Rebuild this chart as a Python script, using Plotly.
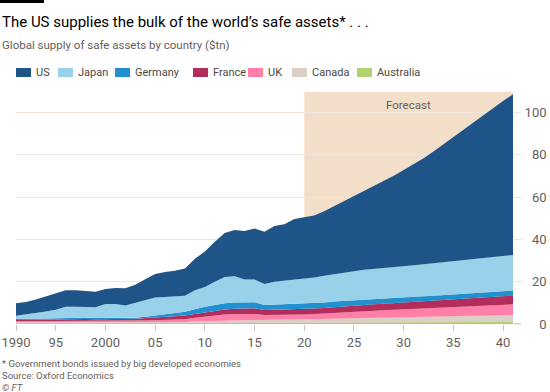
import plotly.graph_objects as go

years = list(range(1991, 2042))

us = [5.9, 5.9, 6.5, 7.1, 7.6, 7.7, 7.7, 7.6, 7.4, 7.2,
      7.6, 8.1, 8.6, 9.9, 11.1, 11.8, 12.2, 12.8, 14.8, 16.8,
      18.9, 20.8, 21.8, 22.9, 24.1, 24.7, 26.3, 26.7, 28.8, 28.9,
      29.3, 30.5, 32.1, 33.8, 35.4, 37.1, 39.0, 40.9, 43.1, 45.4,
      47.7, 50.2, 52.9, 55.9, 58.8, 62.0, 65.0, 68.0, 70.7, 73.4, 76.0]
japan = [1.5, 2.0, 2.5, 3.2, 3.8, 5.1, 5.1, 5.1, 5.0, 6.5,
         6.5, 6.0, 7.0, 7.9, 8.5, 8.3, 8.0, 7.6, 9.0, 9.3,
         11.0, 12.4, 12.4, 10.8, 10.8, 9.9, 10.8, 11.2, 11.4, 12.1,
         12.1, 12.6, 13.0, 13.3, 13.7, 14.0, 14.3, 14.5, 14.6, 14.8,
         15.0, 15.1, 15.4, 15.5, 15.8, 15.9, 16.1, 16.3, 16.5, 16.6, 16.8]
germany = [0.5, 0.5, 0.6, 0.6, 0.7, 0.7, 0.7, 0.6, 0.6, 0.6,
           0.6, 0.5, 0.5, 0.6, 0.8, 1.0, 1.3, 1.8, 2.3, 2.9,
           2.9, 2.9, 3.0, 2.9, 2.9, 2.4, 2.5, 2.5, 2.5, 2.5,
           2.6, 2.6, 2.6, 2.6, 2.7, 2.7, 2.5, 2.5, 2.5, 2.4,
           2.3, 2.3, 2.2, 2.2, 2.1, 2.1, 2.1, 2.1, 2.1, 2.2, 2.4]
france = [0.6, 0.7, 0.6, 0.7, 0.7, 0.8, 0.8, 0.8, 0.8, 0.8,
          0.8, 0.8, 0.9, 1.1, 1.3, 1.5, 1.6, 1.7, 1.8, 1.8,
          2.1, 2.4, 2.6, 2.7, 2.7, 2.3, 2.4, 2.5, 2.5, 2.5,
          2.6, 2.6, 2.8, 2.8, 2.8, 2.9, 3.1, 3.1, 3.2, 3.3,
          3.4, 3.5, 3.6, 3.7, 3.8, 3.9, 3.9, 4.0, 4.1, 4.1, 4.1]
uk = [0.5, 0.5, 0.6, 0.6, 0.7, 0.8, 0.8, 0.8, 0.7, 0.7,
      0.7, 0.7, 0.8, 0.9, 1.1, 1.1, 1.2, 1.3, 1.7, 2.1,
      2.5, 2.9, 2.9, 2.9, 2.9, 2.5, 2.4, 2.3, 2.3, 2.3,
      2.4, 2.6, 2.7, 2.9, 3.1, 3.2, 3.3, 3.5, 3.6, 3.7,
      3.8, 3.9, 4.0, 4.1, 4.2, 4.3, 4.5, 4.6, 4.7, 4.9, 5.0]
canada = [0.6, 0.6, 0.6, 0.6, 0.6, 0.6, 0.6, 0.6, 0.6, 0.6,
          0.6, 0.6, 0.6, 0.6, 0.6, 0.7, 0.7, 0.7, 0.9, 1.1,
          1.1, 1.2, 1.3, 1.4, 1.3, 1.3, 1.4, 1.5, 1.6, 1.6,
          1.7, 1.8, 1.9, 1.9, 2.0, 2.1, 2.2, 2.3, 2.3, 2.4,
          2.5, 2.6, 2.7, 2.7, 2.8, 2.9, 3.0, 3.1, 3.1, 3.2, 3.3]
australia = [0.2, 0.2, 0.2, 0.2, 0.2, 0.2, 0.2, 0.2, 0.2, 0.2,
             0.2, 0.2, 0.2, 0.2, 0.2, 0.2, 0.2, 0.3, 0.3, 0.3,
             0.4, 0.4, 0.4, 0.4, 0.5, 0.5, 0.5, 0.5, 0.5, 0.6,
             0.6, 0.6, 0.6, 0.7, 0.7, 0.7, 0.7, 0.7, 0.8, 0.8,
             0.8, 0.8, 0.8, 0.9, 0.9, 0.9, 0.9, 0.9, 1.0, 1.0, 1.0]

countries = ["US", "Japan", "Germany", "France", "UK", "Canada", "Australia"]
colors = ["#1F5488", "#98D1E9", "#2090CF", "#B22D5B", "#FF7FA8", "#DBCFC6", "#B2D173"]
series = [us, japan, germany, france, uk, canada, australia]

forecast_start = 2020
forecast_end = 2041

xtick_vals = [1991, 1995, 2000, 2005, 2010, 2015, 2020, 2025, 2030, 2035, 2040]
xtick_text = ["1990", "95", "2000", "05", "10", "15", "20", "25", "30", "35", "40"]
ytick_vals = [0, 20, 40, 60, 80, 100]
FS = "\u2007"
ytick_text = [FS + FS + "0", FS + "20", FS + "40", FS + "60", FS + "80", "100"]

FONT = "Roboto"
GREY = "#66605C"

L, R, T, B = 16, 37, 92, 68
PW, PH = 550 - L - R, 392 - T - B


def px(xp):
    return (xp - L) / PW


def py(yp):
    return (392 - B - yp) / PH


fig = go.Figure()
for name, vals, col in reversed(list(zip(countries, series, colors))):
    fig.add_trace(go.Scatter(
        x=years, y=vals, name=name, mode="lines", stackgroup="one",
        line=dict(width=0, color=col), fillcolor=col, showlegend=False,
        hoverinfo="x+y+name"))

fig.add_shape(type="rect", xref="x", yref="paper", x0=forecast_start, x1=forecast_end,
              y0=0, y1=1, fillcolor="#F3DECA", line_width=0, layer="below")
fig.add_annotation(x=(forecast_start + forecast_end) / 2, y=1, xref="x", yref="paper",
                   yanchor="top", yshift=-4, text="Forecast", showarrow=False,
                   font=dict(family=FONT, size=11.5, color=GREY))
fig.add_shape(type="line", xref="paper", yref="y", x0=0, x1=px(521), y0=0, y1=0,
              line=dict(color="#B8B1AB", width=1.2))
fig.add_shape(type="rect", xref="paper", yref="paper", x0=px(0), x1=px(44),
              y0=py(3), y1=py(0), fillcolor="#000000", line_width=0)

leg_x = [16, 58, 115, 193, 248, 292, 357]
for name, col, lx in zip(countries, colors, leg_x):
    fig.add_shape(type="rect", xref="paper", yref="paper",
                  x0=px(lx), x1=px(lx + 15), y0=py(77), y1=py(68),
                  fillcolor=col, line_width=0)
    fig.add_annotation(x=px(lx + 18), y=py(72.5), xref="paper", yref="paper",
                       xanchor="left", yanchor="middle", text=name, showarrow=False,
                       font=dict(family=FONT, size=11, color="#4D4845"))

fig.add_annotation(x=px(0), y=py(22), xref="paper", yref="paper",
                   xanchor="left", yanchor="middle", showarrow=False,
                   text="The US supplies the bulk of the world\u2019s safe assets* . . .",
                   font=dict(family=FONT, size=15, color="#000000"))
fig.add_annotation(x=px(0), y=py(45), xref="paper", yref="paper",
                   xanchor="left", yanchor="middle", showarrow=False,
                   text="Global supply of safe assets by country ($tn)",
                   font=dict(family=FONT, size=11.5, color=GREY))
foot = [("* Government bonds issued by big developed economies", 363),
        ("Source: Oxford Economics", 375), ("<i>\u00a9 FT</i>", 387)]
for t, yy in foot:
    fig.add_annotation(x=px(0), y=py(yy), xref="paper", yref="paper",
                       xanchor="left", yanchor="middle", showarrow=False, text=t,
                       font=dict(family=FONT, size=9.5, color=GREY))

fig.update_layout(
    width=550, height=392,
    margin=dict(l=L, r=R, t=T, b=B, autoexpand=False),
    paper_bgcolor="white", plot_bgcolor="white",
    showlegend=False,
    xaxis=dict(range=[1991, 2041], tickvals=xtick_vals, ticktext=xtick_text,
               ticks="outside", ticklen=6, tickcolor="#C9C2BC", showgrid=False,
               zeroline=False, showline=False, automargin=False,
               tickfont=dict(family=FONT, size=13, color=GREY)),
    yaxis=dict(range=[0, 109.7], side="right", tickvals=ytick_vals, ticktext=ytick_text,
               ticks="outside", ticklen=8, tickcolor="#EEE5DD", showgrid=True,
               gridcolor="#EEE5DD", gridwidth=1, zeroline=False, showline=False,
               layer="above traces", automargin=False,
               tickfont=dict(family=FONT, size=13, color=GREY)),
)
fig.write_html("out.html", config={"displayModeBar": False},
               post_script="document.body.style.margin='0';document.body.style.overflow='hidden';")
